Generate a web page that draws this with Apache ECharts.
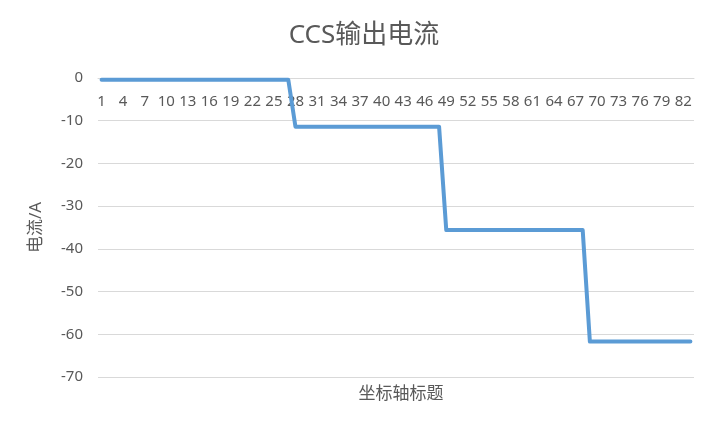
<!DOCTYPE html>
<html>
<head>
<meta charset="utf-8">
<script src="https://cdn.jsdelivr.net/npm/echarts@6/dist/echarts.min.js"></script>
<style>
html,body{margin:0;padding:0;background:#fff;}
#chart{width:719px;height:431px;}
</style>
</head>
<body>
<div id="chart"></div>
<script>
var chartTitle = 'CCS输出电流';
var xAxisTitle = '坐标轴标题';
var yAxisTitle = '电流/A';
var categories = [
  '1','2','3','4','5','6','7','8','9','10',
  '11','12','13','14','15','16','17','18','19','20',
  '21','22','23','24','25','26','27','28','29','30',
  '31','32','33','34','35','36','37','38','39','40',
  '41','42','43','44','45','46','47','48','49','50',
  '51','52','53','54','55','56','57','58','59','60',
  '61','62','63','64','65','66','67','68','69','70',
  '71','72','73','74','75','76','77','78','79','80',
  '81','82','83'
];
var current = [
  -0.4,-0.4,-0.4,-0.4,-0.4,-0.4,-0.4,-0.4,-0.4,-0.4,
  -0.4,-0.4,-0.4,-0.4,-0.4,-0.4,-0.4,-0.4,-0.4,-0.4,
  -0.4,-0.4,-0.4,-0.4,-0.4,-0.4,-0.4,-11.4,-11.4,-11.4,
  -11.4,-11.4,-11.4,-11.4,-11.4,-11.4,-11.4,-11.4,-11.4,-11.4,
  -11.4,-11.4,-11.4,-11.4,-11.4,-11.4,-11.4,-11.4,-35.6,-35.6,
  -35.6,-35.6,-35.6,-35.6,-35.6,-35.6,-35.6,-35.6,-35.6,-35.6,
  -35.6,-35.6,-35.6,-35.6,-35.6,-35.6,-35.6,-35.6,-61.7,-61.7,
  -61.7,-61.7,-61.7,-61.7,-61.7,-61.7,-61.7,-61.7,-61.7,-61.7,
  -61.7,-61.7,-61.7
];
var yMin = -70, yMax = 0, yStep = 10;

var FONT = "'Noto Sans', 'Noto Sans CJK SC', sans-serif";
var TXT = '#595959';
var chart = echarts.init(document.getElementById('chart'), null, {renderer: 'canvas'});
chart.setOption({
  animation: false,
  backgroundColor: '#ffffff',
  title: [
    {text: chartTitle, left: 359, top: 18, textAlign: 'center',
     textStyle: {fontFamily: FONT, fontSize: 26, fontWeight: 'normal', color: TXT}},
    {text: xAxisTitle, left: 396, top: 381, textAlign: 'center',
     textStyle: {fontFamily: FONT, fontSize: 17, fontWeight: 'normal', color: TXT}}
  ],
  grid: {left: 98, right: 25, top: 78, bottom: 54, containLabel: false},
  xAxis: {
    type: 'category',
    position: 'top',
    data: categories,
    boundaryGap: true,
    axisLine: {show: true, lineStyle: {color: '#d9d9d9', width: 1}},
    axisTick: {show: false},
    axisLabel: {inside: true, interval: 2, margin: 16, color: TXT, fontSize: 15, fontFamily: FONT},
    splitLine: {show: false}
  },
  yAxis: {
    type: 'value',
    min: yMin, max: yMax, interval: yStep,
    name: yAxisTitle, nameLocation: 'middle', nameGap: 53,
    nameTextStyle: {fontFamily: FONT, fontSize: 17, color: TXT},
    axisLine: {show: false},
    axisTick: {show: false},
    axisLabel: {margin: 15, color: TXT, fontSize: 15, fontFamily: FONT},
    splitLine: {lineStyle: {color: '#d9d9d9', width: 1}}
  },
  series: [{
    type: 'line',
    data: current,
    showSymbol: false,
    symbol: 'none',
    lineStyle: {color: '#5b9bd5', width: 4, cap: 'round', join: 'round'},
    itemStyle: {color: '#5b9bd5'}
  }]
});
</script>
</body>
</html>
